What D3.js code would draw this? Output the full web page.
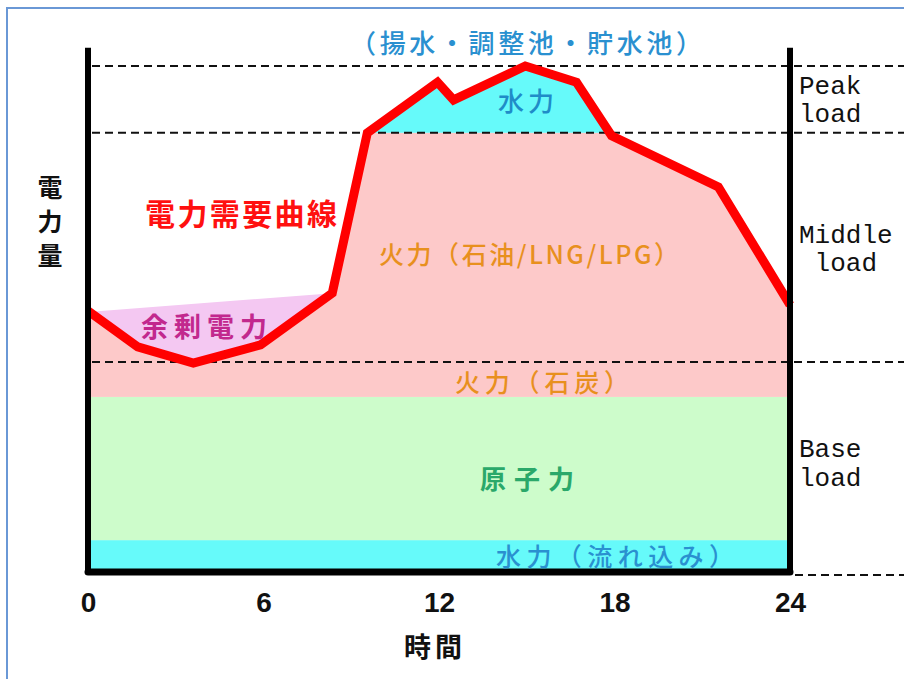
<!DOCTYPE html>
<html><head><meta charset="utf-8">
<script src="https://cdn.jsdelivr.net/npm/d3@7"></script>
<style>
html,body{margin:0;padding:0;background:#fff;}
svg{display:block;}
</style></head>
<body>
<svg id="c" width="904" height="679"></svg>
<script>
// ---- data ----
const hours  = [0, 1.7, 3.6, 5.9, 8.35, 9.55, 11.95, 12.5, 14.95, 16.7, 17.9, 21.55, 24];
const demand = [51.6, 44.5, 41.3, 44.9, 55.1, 86.8, 96.8, 93.3, 100, 96.8, 86.2, 76.1, 52.8];
const surplusHours = [0, 8.35];
const surplusLevel = [51.4, 55.1];
const bandNames  = ["水力（流れ込み）", "原子力", "火力（石炭）"];
const bandBottom = [0, 6.3, 34.6];
const bandTop    = [6.3, 34.6, 41.5];
const middleTop = 86.8;
const peakTop = 100;
const axisTop = 103.6;
const xTicks = [0, 6, 12, 18, 24];
const loadLines = [100, 86.8, 41.5];
const loadLabels = [["Peak", "load"], ["Middle", " load"], ["Base", "load"]];

const svg = d3.select("#c");
const x = d3.scaleLinear().domain([0, 24]).range([88, 790]);
const y = d3.scaleLinear().domain([0, 100]).range([572, 66]);

const pts = hours.map((h, i) => ({h, v: demand[i]}));

// frame
svg.append("rect").attr("x", 7).attr("y", 8).attr("width", 910).attr("height", 690)
  .attr("fill", "none").attr("stroke", "#6a98d6").attr("stroke-width", 2);

const defs = svg.append("defs");
defs.append("clipPath").attr("id", "below").append("rect")
  .attr("x", x(0)).attr("y", y(middleTop)).attr("width", x(24) - x(0)).attr("height", y(0) - y(middleTop));
defs.append("clipPath").attr("id", "above").append("rect")
  .attr("x", x(0)).attr("y", 0).attr("width", x(24) - x(0)).attr("height", y(middleTop));

// bands
const bandColors = ["#66fafa", "#cdfccb", "#fdc9c9"];
bandNames.forEach((n, i) => {
  svg.append("rect").attr("x", x(0)).attr("width", x(24) - x(0))
    .attr("y", y(bandTop[i])).attr("height", y(bandBottom[i]) - y(bandTop[i]))
    .attr("fill", bandColors[i]);
});

// surplus (lavender) polygon: surplus line then curve back
const surplusPoly = surplusHours.map((h, i) => ({h, v: surplusLevel[i]}))
  .concat(pts.filter(p => p.h <= surplusHours[1]).reverse());
svg.append("path").datum(surplusPoly)
  .attr("d", d3.line().x(d => x(d.h)).y(d => y(d.v)))
  .attr("fill", "#f4c8f2");

// middle (thermal oil/LNG) area
svg.append("path").datum(pts)
  .attr("d", d3.area().x(d => x(d.h)).y0(y(bandTop[2])).y1(d => y(d.v)))
  .attr("fill", "#fdc9c9").attr("clip-path", "url(#below)");

// peak hydro
svg.append("path").datum(pts)
  .attr("d", d3.area().x(d => x(d.h)).y0(y(0)).y1(d => y(d.v)))
  .attr("fill", "#66fafa").attr("clip-path", "url(#above)");

// dashed load lines
loadLines.forEach(v => {
  svg.append("line").attr("x1", x(0) + 4).attr("x2", 904).attr("y1", y(v)).attr("y2", y(v))
    .attr("stroke", "#111").attr("stroke-width", 2).attr("stroke-dasharray", "8,5");
});
svg.append("line").attr("x1", x(24) + 5).attr("x2", 904).attr("y1", y(0) + 3).attr("y2", y(0) + 3)
  .attr("stroke", "#111").attr("stroke-width", 2).attr("stroke-dasharray", "8,5");

// demand curve
svg.append("path").datum(pts)
  .attr("d", d3.line().x(d => x(d.h)).y(d => y(d.v)))
  .attr("fill", "none").attr("stroke", "#ff0000").attr("stroke-width", 9)
  .attr("stroke-linejoin", "miter");

// axes lines
svg.append("line").attr("x1", x(0)).attr("x2", x(0)).attr("y1", y(axisTop)).attr("y2", y(0))
  .attr("stroke", "#000").attr("stroke-width", 6);
svg.append("line").attr("x1", x(24)).attr("x2", x(24)).attr("y1", y(axisTop)).attr("y2", y(0))
  .attr("stroke", "#000").attr("stroke-width", 6);
svg.append("line").attr("x1", x(0)).attr("x2", x(24)).attr("y1", y(0)).attr("y2", y(0))
  .attr("stroke", "#000").attr("stroke-width", 7).attr("stroke-linecap", "round");

// x axis ticks
const ax = svg.append("g").attr("transform", `translate(0,${y(0) + 12})`)
  .call(d3.axisBottom(x).tickValues(xTicks).tickSize(0).tickPadding(8).tickFormat(d3.format("d")));
ax.select(".domain").remove();
ax.selectAll("text").attr("font-family", "Liberation Sans, Arial, sans-serif")
  .attr("font-weight", "bold").attr("font-size", 28).attr("fill", "#111");

const jp = "'Noto Sans CJK JP', sans-serif";
function label(t, cx, cy, size, color, weight, width) {
  const el = svg.append("text").attr("x", cx).attr("y", cy).text(t)
    .attr("font-family", jp).attr("font-size", size).attr("fill", color)
    .attr("font-weight", weight || "normal").attr("text-anchor", "middle")
    .attr("dominant-baseline", "central");
  if (width) el.attr("textLength", width).attr("lengthAdjust", "spacing");
  return el;
}

label("時間", 433, 645, 27, "#111", "bold", 58);
["電", "力", "量"].forEach((c, i) => label(c, 50, 186 + i * 34, 25, "#111", "bold"));

label("（揚水・調整池・貯水池）", 526, 41, 26, "#2a90d0", "500", 352);
label("水力", 526, 99, 26, "#1f8cc8", "500", 56);
label("電力需要曲線", 241, 212, 30, "#ff1010", "bold", 192);
label("余剰電力", 204, 325, 27, "#c2288e", "bold", 126);
label("火力（石油/LNG/LPG）", 529, 253, 25, "#e8901e", "500", 300);
label("火力（石炭）", 542, 381, 25, "#e8901e", "500", 174);
label("原子力", 527, 477, 26, "#2aa86a", "bold", 94);
label("水力（流れ込み）", 615, 555, 25, "#2a90d0", "500", 238);

// load labels
const loadY = [[87, 115], [236, 264], [450, 479]];
loadLabels.forEach((lines, i) => {
  lines.forEach((ln, j) => {
    svg.append("text").attr("x", 799).attr("y", loadY[i][j]).text(ln)
      .attr("font-family", "'Liberation Mono', 'DejaVu Sans Mono', monospace")
      .attr("font-size", 26).attr("fill", "#111")
      .style("white-space", "pre")
      .attr("dominant-baseline", "central");
  });
});
</script>
</body></html>
